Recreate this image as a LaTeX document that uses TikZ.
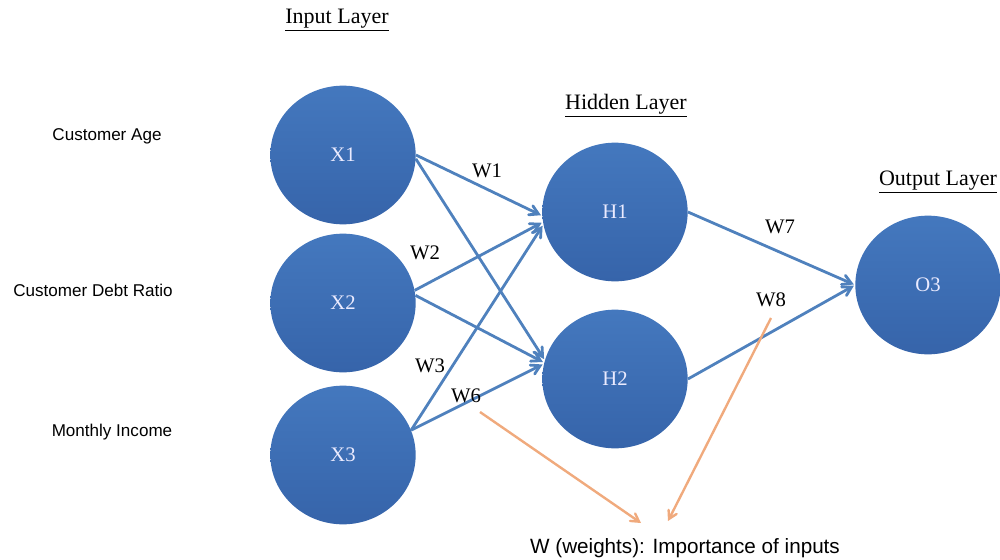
\documentclass[tikz,border=0pt]{standalone}
\usepackage{fontspec}
\setmainfont{Liberation Serif}
\setsansfont{Liberation Sans}
\usepackage{xcolor}
\usetikzlibrary{arrows,shapes.geometric}
\definecolor{nodetop}{RGB}{68,120,190}
\definecolor{nodebot}{RGB}{54,100,170}
\definecolor{linkblue}{RGB}{79,129,189}
\definecolor{noteorange}{RGB}{240,170,125}

\begin{document}
\begin{tikzpicture}[x=0.75pt, y=-0.75pt, >=angle 60,
    neuron/.style = {ellipse, inner sep=0pt, minimum width=109pt, minimum height=104pt,
      top color=nodetop, bottom color=nodebot, text=white!92!blue, font=\fontsize{15.5}{17}\selectfont},
    link/.style = {->, draw=linkblue, line width=2.1pt, shorten >=1pt},
    hint/.style = {->, draw=noteorange, line width=1.8pt},
    layer/.style = {font=\fontsize{16.5}{19}\selectfont},
    weight/.style = {font=\fontsize{15.5}{18}\selectfont},
    feature/.style = {font=\sffamily\fontsize{12.8}{15}\selectfont}]
  \useasboundingbox (0,0) rectangle (1000,560);

  % layer headings
  \node[layer] (in_l) at (337,20) {\underline{Input Layer}};
  \node[layer] (hid_l) at (626,106) {\underline{Hidden Layer}};
  \node[layer] (out_l) at (938,182) {\underline{Output Layer}};

  % input names
  \node[feature] (f_1) at (107,136) {Customer Age};
  \node[feature] (f_2) at (93,290) {Customer Debt Ratio};
  \node[feature] (f_3) at (112,432) {Monthly Income};

  % neurons
  \node[neuron] (x_1) at (343,155) {X1};
  \node[neuron] (x_2) at (343,303) {X2};
  \node[neuron] (x_3) at (343,455) {X3};
  \node[neuron] (h_1) at (615,212) {H1};
  \node[neuron] (h_2) at (615,379) {H2};
  \node[neuron] (o_3) at (928,285) {O3};

  % weights
  \draw[link] (x_1.east) -- (h_1.183);
  \draw[link] (x_1.357) -- (h_2.165);
  \draw[link] (x_2.10) -- (h_1.188);
  \draw[link] (x_2.6) -- (h_2.167);
  \draw[link] (x_3.20) -- (h_1.190);
  \draw[link] (x_3.20) -- (h_2.168);
  \draw[link] (h_1.east) -- (o_3.west);
  \draw[link] (h_2.east) -- (o_3.west);

  \node[weight] (w_1) at (487,171) {W1};
  \node[weight] (w_2) at (425,253) {W2};
  \node[weight] (w_3) at (430,366) {W3};
  \node[weight] (w_6) at (466,396) {W6};
  \node[weight] (w_7) at (780,227) {W7};
  \node[weight] (w_8) at (771,300) {W8};

  % note
  \node[feature, font=\sffamily\fontsize{15.5}{18}\selectfont] (note) at (685,548) {W (weights): Importance of inputs};
  \coordinate (c_6) at (480,412);
  \coordinate (c_8) at (771,318);
  \coordinate (t_6) at (641,523);
  \coordinate (t_8) at (668,521);
  \draw[hint] (c_6) -- (t_6);
  \draw[hint] (c_8) -- (t_8);
\end{tikzpicture}
\end{document}
